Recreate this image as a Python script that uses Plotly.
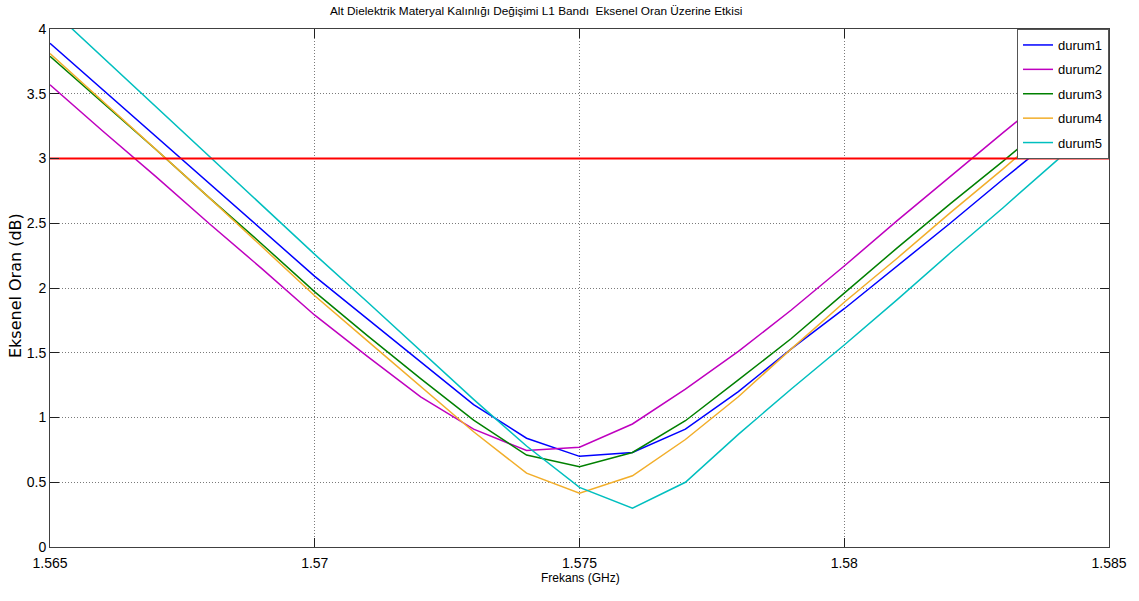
import plotly.graph_objects as go

# ---- data ----
frekans = [1.565, 1.566, 1.567, 1.568, 1.569, 1.570, 1.571, 1.572, 1.573, 1.574,
           1.575, 1.576, 1.577, 1.578, 1.579, 1.580, 1.581, 1.582, 1.583, 1.584, 1.585]
durum1 = [3.89, 3.53, 3.17, 2.81, 2.45, 2.09, 1.76, 1.43, 1.10, 0.84,
          0.70, 0.73, 0.91, 1.20, 1.53, 1.84, 2.17, 2.50, 2.84, 3.17, 3.50]
durum2 = [3.57, 3.21, 2.86, 2.50, 2.15, 1.79, 1.47, 1.16, 0.91, 0.745,
          0.77, 0.95, 1.22, 1.51, 1.83, 2.17, 2.52, 2.86, 3.20, 3.53, 3.87]
durum3 = [3.79, 3.43, 3.07, 2.70, 2.34, 1.97, 1.63, 1.30, 0.98, 0.71,
          0.62, 0.73, 0.975, 1.29, 1.61, 1.96, 2.31, 2.65, 2.98, 3.32, 3.66]
durum4 = [3.81, 3.44, 3.07, 2.70, 2.32, 1.94, 1.59, 1.24, 0.89, 0.57,
          0.415, 0.55, 0.83, 1.16, 1.53, 1.89, 2.23, 2.58, 2.92, 3.27, 3.61]
durum5 = [4.16, 3.78, 3.40, 3.02, 2.64, 2.26, 1.89, 1.515, 1.14, 0.78,
          0.46, 0.30, 0.50, 0.87, 1.22, 1.56, 1.91, 2.27, 2.62, 2.98, 3.34]
esik_x = [1.565, 1.585]
esik_y = [3, 3]

series_names = ["durum1", "durum2", "durum3", "durum4", "durum5"]
series_values = [durum1, durum2, durum3, durum4, durum5]
series_colors = ["#0000FF", "#BF00BF", "#008000", "#F2AE2A", "#00BFBF"]

x_ticks = [1.565, 1.57, 1.575, 1.58, 1.585]
x_ticklabels = ["1.565", "1.57", "1.575", "1.58", "1.585"]
y_ticks = [0, 0.5, 1, 1.5, 2, 2.5, 3, 3.5, 4]
y_ticklabels = ["0", "0.5", "1", "1.5", "2", "2.5", "3", "3.5", "4"]

title_text = "Alt Dielektrik Materyal Kalınlığı Değişimi L1 Bandı  Eksenel Oran Üzerine Etkisi"
xlabel = "Frekans (GHz)"
ylabel = "Eksenel Oran (dB)"

# ---- figure ----
W, H = 1139, 601
ML, MR, MT, MB = 50, W - 1111, 29, H - 547
FONT = "Liberation Sans, Arial, sans-serif"

fig = go.Figure()
for i, (name, vals, col) in enumerate(zip(series_names, series_values, series_colors)):
    fig.add_trace(go.Scatter(x=frekans, y=vals, mode="lines", name=name,
                             legendgroup="g%d" % i,
                             line=dict(color=col, width=1.5)))
fig.add_trace(go.Scatter(x=esik_x, y=esik_y, mode="lines", showlegend=False,
                         line=dict(color="#FF0000", width=2)))

def px_x(p):   # page pixel -> paper x
    return (p - ML) / (W - ML - MR)

def px_y(p):   # page pixel -> paper y
    return (H - MB - p) / (H - MT - MB)

axis_common = dict(showline=True, linecolor="#404040", linewidth=1, mirror="ticks",
                   ticks="inside", ticklen=9, tickcolor="#202020", tickwidth=1,
                   showgrid=True, gridcolor="#7a7a7a", griddash="1px,2px", gridwidth=1,
                   zeroline=False, tickfont=dict(family=FONT, size=14, color="#000000"))

fig.update_layout(
    width=W, height=H,
    margin=dict(l=ML, r=MR, t=MT, b=MB),
    paper_bgcolor="white", plot_bgcolor="white",
    showlegend=True,
    legend=dict(x=1, y=1, xanchor="right", yanchor="top",
                bgcolor="white", bordercolor="#555555", borderwidth=1,
                font=dict(family=FONT, size=13, color="#000000"),
                tracegroupgap=4.5, itemwidth=30),
    xaxis=dict(range=[1.565, 1.585], tickvals=x_ticks, ticktext=x_ticklabels,
               ticklabelstandoff=3, **axis_common),
    yaxis=dict(range=[0, 4], tickvals=y_ticks, ticktext=y_ticklabels, **axis_common),
    annotations=[
        dict(text=title_text, xref="paper", yref="paper", x=px_x(537), y=px_y(11),
             xanchor="center", yanchor="middle", showarrow=False,
             font=dict(family=FONT, size=11.8, color="#000000")),
        dict(text=xlabel, xref="paper", yref="paper", x=px_x(582), y=px_y(578),
             xanchor="center", yanchor="middle", showarrow=False,
             font=dict(family=FONT, size=12, color="#000000")),
        dict(text=ylabel, xref="paper", yref="paper", x=px_x(15), y=px_y(286),
             xanchor="center", yanchor="middle", showarrow=False, textangle=-90,
             font=dict(family="DejaVu Sans, sans-serif", size=16, color="#000000")),
    ],
)

fig.write_html("out.html", config={"displayModeBar": False},
               post_script="document.body.style.margin='0';document.body.style.overflow='hidden';")
